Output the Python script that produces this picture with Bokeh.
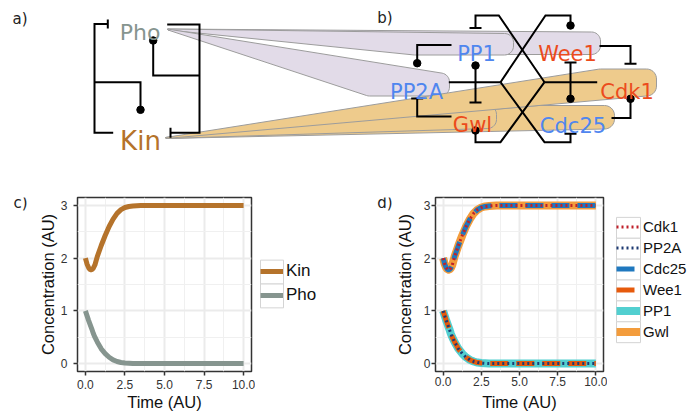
import numpy as np
from bokeh.plotting import figure
from bokeh.layouts import column, row
from bokeh.models import Range1d, FixedTicker, NumeralTickFormatter, Legend, LegendItem
from bokeh.core.properties import value
from bokeh.embed import file_html
from bokeh.resources import INLINE

# ---------------- data ----------------
time = [0.0, 0.1, 0.2, 0.3, 0.4, 0.5, 0.6, 0.75, 1.0, 1.25, 1.5, 1.75, 2.0,
        2.25, 2.5, 2.75, 3.0, 3.5, 4.0, 5.0, 6.0, 7.0, 8.0, 9.0, 10.0]
kin = [2.00, 1.89, 1.82, 1.78, 1.78, 1.81, 1.87, 2.03, 2.24, 2.43, 2.60, 2.74, 2.85,
       2.92, 2.96, 2.98, 2.99, 3.00, 3.00, 3.00, 3.00, 3.00, 3.00, 3.00, 3.00]
pho = [1.00, 0.91, 0.82, 0.74, 0.66, 0.57, 0.50, 0.41, 0.28, 0.19, 0.12, 0.07, 0.04,
       0.02, 0.01, 0.005, 0.0, 0.0, 0.0, 0.0, 0.0, 0.0, 0.0, 0.0, 0.0]

# panel d: every species follows the Kin or Pho curve
cdk1 = list(kin)
cdc25 = list(kin)
gwl = list(kin)
pp2a = list(pho)
wee1 = list(pho)
pp1 = list(pho)

c_series = ["Kin", "Pho"]
d_series = ["Cdk1", "PP2A", "Cdc25", "Wee1", "PP1", "Gwl"]

x_ticks = [0, 2.5, 5, 7.5, 10]
x_minor = [1.25, 3.75, 6.25, 8.75]
y_ticks = [0, 1, 2, 3]
y_minor = [0.5, 1.5, 2.5]

a_nodes = ["Pho", "Kin"]
b_nodes = ["PP1", "Wee1", "PP2A", "Cdk1", "Gwl", "Cdc25"]
panel_tags = ["a)", "b)", "c)", "d)"]

# ---------------- styles ----------------
KIN_C = "#b5732b"
PHO_C = "#86958f"
BLUE_T = "#4f86ef"
RED_T = "#ec4b1c"
PURPLE_F = "#e2dbe8"
ORANGE_F = "#eecb8c"
EDGE = "#9c9c9c"
C_STYLE = {"Kin": dict(color=KIN_C, width=5, dash="solid"),
           "Pho": dict(color=PHO_C, width=5, dash="solid")}
C_VALUES = {"Kin": kin, "Pho": pho}
D_STYLE = {
    "Gwl":   dict(color="#f39c3c", width=8, dash="solid"),
    "PP1":   dict(color="#52cfd0", width=8, dash="solid"),
    "Wee1":  dict(color="#e65a0c", width=5, dash="18 8"),
    "Cdc25": dict(color="#1f78bf", width=5, dash="18 8"),
    "PP2A":  dict(color="#1e3a72", width=3, dash="2 3"),
    "Cdk1":  dict(color="#c0202a", width=3, dash="2 3"),
}
D_VALUES = {"Cdk1": cdk1, "PP2A": pp2a, "Cdc25": cdc25, "Wee1": wee1, "PP1": pp1, "Gwl": gwl}
DRAW_ORDER = ["Gwl", "PP1", "Wee1", "Cdc25", "PP2A", "Cdk1"]

TOTAL_W = 689
TOP_H = 160
BOT_H = 253
B_TOP = 37           # common top border of the bottom row (frames are aligned)
B_BOT = 41           # common bottom border of the bottom row


def canvas(width, height, x0, y0, mbt=0, mbb=0):
    """Figure whose data units are picture pixels (frame = canvas minus mbt/mbb)."""
    f = figure(width=width, height=height, x_range=Range1d(x0, x0 + width),
               y_range=Range1d(y0 + height - mbb, y0 + mbt), output_backend="svg",
               toolbar_location=None, x_axis_location=None, y_axis_location=None,
               min_border=0, min_border_top=mbt, min_border_bottom=mbb,
               outline_line_color=None)
    f.grid.visible = False
    f.background_fill_color = "white"
    f.border_fill_color = "white"
    return f


# ---------------- top diagram (coordinates in picture pixels) ----------------
top = canvas(TOTAL_W, TOP_H, 0, 0)


def rrect(x0, x1, y0, y1, r, n=10):
    pts = []
    for cx, cy, a0 in [(x1 - r, y0 + r, -90), (x1 - r, y1 - r, 0),
                       (x0 + r, y1 - r, 90), (x0 + r, y0 + r, 180)]:
        for t in np.linspace(a0, a0 + 90, n):
            pts.append((cx + r * np.cos(np.radians(t)), cy + r * np.sin(np.radians(t))))
    return pts


def hull(points):
    pts = sorted(set(points))

    def cross(o, a, b):
        return (a[0] - o[0]) * (b[1] - o[1]) - (a[1] - o[1]) * (b[0] - o[0])
    lower, upper = [], []
    for p in pts:
        while len(lower) >= 2 and cross(lower[-2], lower[-1], p) <= 0:
            lower.pop()
        lower.append(p)
    for p in reversed(pts):
        while len(upper) >= 2 and cross(upper[-2], upper[-1], p) <= 0:
            upper.pop()
        upper.append(p)
    return lower[:-1] + upper[:-1]


purple_apex = (167, 28.5)
orange_apex = (165, 137)
wedges = [
    (purple_apex, PURPLE_F, (430, 600, 31.5, 54), 9),      # Wee1
    (purple_apex, PURPLE_F, (405, 513, 33, 54.5), 9),      # PP1
    (purple_apex, PURPLE_F, (360, 449, 72.5, 95.5), 9),    # PP2A
    (orange_apex, ORANGE_F, (528, 614, 105, 128.5), 10),   # Cdc25
    (orange_apex, ORANGE_F, (430, 496, 105, 128), 9),      # Gwl
    (orange_apex, ORANGE_F, (590, 656, 68.5, 95.5), 10),   # Cdk1
]
wx, wy, wc = [], [], []
for apex, col, (x0, x1, y0, y1), r in wedges:
    h = hull([apex, (apex[0] + 0.5, apex[1] + 1.0)] + rrect(x0, x1, y0, y1, r))
    wx.append([p[0] for p in h])
    wy.append([p[1] for p in h])
    wc.append(col)
top.patches(wx, wy, fill_color=wc, line_color=EDGE, line_width=1)

lines = [
    # panel a
    [(112.7, 132.3), (94, 132.3), (94, 23.5), (107.3, 23.5)],
    [(94, 81.7), (140, 81.7), (140, 109.3)],
    [(166.7, 24), (199, 24), (199, 132.3), (170, 132.3)],
    [(199, 75), (152.7, 75), (152.7, 40)],
    # panel b
    [(448.3, 81.7), (500, 81.7)],
    [(500, 81.7), (545, 15), (570, 15), (570, 25)],
    [(500, 81.7), (544, 141.7), (570, 141.7), (570, 133.3)],
    [(596.7, 81.7), (544, 81.7)],
    [(544, 81.7), (498.3, 15), (475, 15), (475, 27.5)],
    [(544, 81.7), (500, 141.7), (475, 141.7), (475, 130)],
    [(475, 65), (475, 102)],
    [(570, 62), (570, 98.3)],
    [(599, 45.5), (630, 45.5), (630, 63.3)],
    [(611, 117.5), (630, 117.5), (630, 98.3)],
    [(451, 44.5), (416.7, 44.5), (416.7, 62.7)],
    [(451, 116), (416.7, 116), (416.7, 98)],
]
top.multi_line([[p[0] for p in l] for l in lines], [[p[1] for p in l] for l in lines],
               line_color="black", line_width=2, line_join="miter")

# inhibition bars
vbars = [(107.3, 23.5, 4.5), (170, 132.3, 5)]
hbars = [(475, 27.5), (570, 133.3), (475, 102), (570, 62), (630, 63.3), (416.7, 98)]
top.segment([b[0] for b in vbars], [b[1] - b[2] for b in vbars],
            [b[0] for b in vbars], [b[1] + b[2] for b in vbars], line_color="black", line_width=2)
top.segment([b[0] - 6 for b in hbars], [b[1] for b in hbars],
            [b[0] + 6 for b in hbars], [b[1] for b in hbars], line_color="black", line_width=2)
# activation dots
dots = [(140, 109.3), (152.7, 40), (570, 25), (475, 130), (475, 65), (570, 98.3),
        (630, 98.3), (416.7, 62.7)]
top.scatter([d[0] for d in dots], [d[1] for d in dots], size=7.5, color="black")

# node labels
top.text(x=[139.5], y=[31.7], text=[a_nodes[0]], text_color=PHO_C, text_font=value("DejaVu Sans"),
         text_font_size="22px", text_align="center", text_baseline="alphabetic")
top.text(x=[140], y=[140], text=[a_nodes[1]], text_color=KIN_C, text_font=value("DejaVu Sans"),
         text_font_size="26px", text_align="center", text_baseline="alphabetic")
b_x = [476, 567, 416, 626.5, 472, 572.5]
b_y = [53.3, 53.3, 91.7, 91.7, 124.5, 125.5]
b_col = [BLUE_T, RED_T, BLUE_T, RED_T, RED_T, BLUE_T]
top.text(x=b_x, y=b_y, text=b_nodes, text_color=b_col, text_font=value("DejaVu Sans"),
         text_font_size="21px", text_align="center", text_baseline="alphabetic")
top.text(x=[12, 376.7], y=[18, 17.5], text=panel_tags[:2], text_color="#222222",
         text_font=value("DejaVu Sans"), text_font_size="15px", text_align="left",
         text_baseline="middle")


# ---------------- time course panels ----------------
def panel(width, mbl, y_std, y_lab_std, x_std, x_lab_std):
    p = figure(width=width, height=BOT_H, x_range=Range1d(-0.5, 10.5), y_range=Range1d(-0.15, 3.15),
               min_border_left=mbl, min_border_right=4, min_border_top=B_TOP,
               min_border_bottom=B_BOT, output_backend="svg", toolbar_location=None,
               x_axis_label="Time (AU)", y_axis_label="Concentration (AU)")
    p.xaxis.ticker = FixedTicker(ticks=x_ticks, minor_ticks=x_minor)
    p.yaxis.ticker = FixedTicker(ticks=y_ticks, minor_ticks=y_minor)
    p.xaxis.formatter = NumeralTickFormatter(format="0.0")
    for ax in p.axis:
        ax.axis_line_color = None
        ax.major_tick_in = 0
        ax.major_tick_out = 4
        ax.major_tick_line_color = "#333333"
        ax.major_tick_line_width = 1.5
        ax.minor_tick_line_color = None
        ax.major_label_text_font = "Liberation Sans"
        ax.major_label_text_font_size = "12px"
        ax.major_label_text_color = "#333333"
        ax.axis_label_text_font = "Liberation Sans"
        ax.axis_label_text_font_size = "16.5px"
        ax.axis_label_text_font_style = "normal"
        ax.axis_label_text_color = "#111111"
    p.xaxis.major_label_standoff = x_std
    p.xaxis.axis_label_standoff = x_lab_std
    p.yaxis.major_label_standoff = y_std
    p.yaxis.axis_label_standoff = y_lab_std
    p.grid.grid_line_color = "#ebebeb"
    p.grid.grid_line_width = 2
    p.grid.minor_grid_line_color = "#f0f0f0"
    p.grid.minor_grid_line_width = 1
    p.outline_line_color = "#333333"
    p.outline_line_width = 1.5
    p.background_fill_color = "white"
    p.border_fill_color = "white"
    return p


def legend_block(fig, names, styles, key_left, key_top, key_w, key_h, font_size):
    """Key boxes plus a Bokeh Legend, drawn inside a border-less canvas figure."""
    n = len(names)
    fig.quad(left=[key_left] * n, right=[key_left + key_w] * n,
             top=[key_top + i * key_h for i in range(n)],
             bottom=[key_top + (i + 1) * key_h for i in range(n)],
             fill_color="white", line_color="#d4d4d4", line_width=1)
    items = []
    far = fig.x_range.start - 500   # proxy renderers kept outside the visible range
    for nm in names:
        st = styles[nm]
        r = fig.line(x=[far, far + 1], y=[0, 0], line_width=st["width"], color=st["color"],
                     line_dash=st["dash"])
        items.append(LegendItem(label=nm, renderers=[r]))
    x0 = fig.x_range.start
    y_bottom = fig.y_range.start
    leg = Legend(items=items, location=(key_left - x0, y_bottom - (key_top + n * key_h)),
                 glyph_width=key_w, glyph_height=key_h, label_height=key_h, label_standoff=3,
                 spacing=0, padding=0, margin=0, border_line_color=None,
                 background_fill_alpha=0, label_text_font="Liberation Sans",
                 label_text_font_size=font_size, label_text_color="#111111")
    fig.add_layout(leg)


# x layout of the bottom row (picture pixels)
SC_W = 30            # strip with "c)"          0 .. 30
C_W = 225            # panel c                 30 .. 255  (frame 77 .. 251)
M_W = 137            # legend c + "d)"        255 .. 392
D_W = 215            # panel d                392 .. 607  (frame 430 .. 603)
L_W = TOTAL_W - SC_W - C_W - M_W - D_W   # legend d   607 .. 689

strip_c = canvas(SC_W, BOT_H, 0, TOP_H, B_TOP, B_BOT)
strip_c.text(x=[13], y=[203], text=[panel_tags[2]], text_color="#222222",
             text_font=value("DejaVu Sans"), text_font_size="15px", text_align="left",
             text_baseline="middle")

pc = panel(C_W, 47, 6, 1, 4, 1)
for nm in c_series:
    st = C_STYLE[nm]
    pc.line(time, C_VALUES[nm], line_width=st["width"], color=st["color"])

mid = canvas(M_W, BOT_H, SC_W + C_W, TOP_H, B_TOP, B_BOT)
legend_block(mid, c_series, C_STYLE, 260, 260, 23, 24, "17px")
mid.text(x=[376.7], y=[203], text=[panel_tags[3]], text_color="#222222",
         text_font=value("DejaVu Sans"), text_font_size="15px", text_align="left",
         text_baseline="middle")

pd_ = panel(D_W, 38, 1, 7, 1, 4)
for nm in DRAW_ORDER:
    st = D_STYLE[nm]
    pd_.line(time, D_VALUES[nm], line_width=st["width"], color=st["color"], line_dash=st["dash"])

legd = canvas(L_W, BOT_H, SC_W + C_W + M_W + D_W, TOP_H, B_TOP, B_BOT)
legend_block(legd, d_series, D_STYLE, 616, 217, 24, 21, "15px")

layout = column(top, row(strip_c, pc, mid, pd_, legd, spacing=0), spacing=0)
open("out.html", "w").write(file_html(layout, INLINE))
